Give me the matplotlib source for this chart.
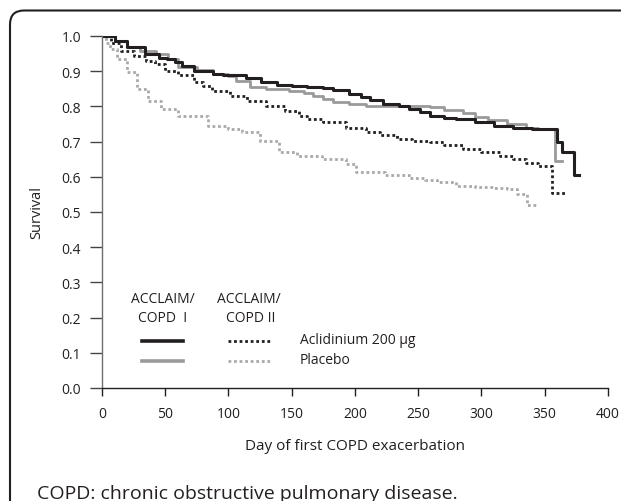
import matplotlib
matplotlib.use("Agg")
import matplotlib.pyplot as plt
from matplotlib.patches import FancyBboxPatch
from matplotlib.transforms import IdentityTransform

plt.rcParams['font.family'] = ['Open Sans', 'DejaVu Sans']

# ---- data ----
acl1_days = [0, 10, 20, 34, 45, 51, 58, 63, 73, 88, 96, 114, 126, 138, 150, 162, 175, 183, 195, 205, 212,
             222, 235, 243, 251, 259, 270, 280, 295, 310, 325, 340, 360, 364, 373, 377]
acl1_surv = [1.0, 0.985, 0.97, 0.949, 0.938, 0.935, 0.925, 0.916, 0.90, 0.893, 0.890, 0.880, 0.870, 0.862,
             0.858, 0.856, 0.851, 0.847, 0.835, 0.826, 0.818, 0.808, 0.800, 0.793, 0.783, 0.774, 0.768,
             0.763, 0.755, 0.745, 0.740, 0.735, 0.700, 0.670, 0.605, 0.605]

pla1_days = [0, 10, 20, 30, 43, 52, 60, 75, 88, 100, 106, 117, 130, 148, 160, 167, 175, 183, 195, 209, 230,
             259, 270, 285, 295, 305, 320, 335, 345, 358, 364]
pla1_surv = [1.0, 0.985, 0.97, 0.958, 0.949, 0.935, 0.912, 0.902, 0.892, 0.885, 0.873, 0.854, 0.850, 0.845,
             0.838, 0.830, 0.820, 0.812, 0.807, 0.800, 0.800, 0.798, 0.790, 0.780, 0.770, 0.760, 0.750,
             0.740, 0.735, 0.645, 0.645]

acl2_days = [0, 7, 15, 25, 35, 42, 50, 60, 73, 80, 87, 101, 115, 130, 145, 156, 162, 175, 193, 209, 220,
             233, 245, 259, 270, 285, 300, 315, 325, 335, 345, 356, 366]
acl2_surv = [1.0, 0.98, 0.958, 0.942, 0.928, 0.92, 0.90, 0.888, 0.870, 0.858, 0.845, 0.830, 0.815, 0.802,
             0.788, 0.774, 0.764, 0.755, 0.740, 0.728, 0.720, 0.707, 0.703, 0.698, 0.690, 0.680, 0.670,
             0.660, 0.650, 0.640, 0.630, 0.555, 0.555]

pla2_days = [0, 3, 6, 12, 20, 28, 36, 47, 60, 84, 100, 111, 125, 140, 154, 174, 193, 201, 224, 243, 255,
             265, 280, 295, 310, 320, 328, 336, 343]
pla2_surv = [1.0, 0.98, 0.963, 0.935, 0.897, 0.849, 0.816, 0.793, 0.772, 0.745, 0.735, 0.727, 0.703, 0.670,
             0.660, 0.650, 0.637, 0.615, 0.605, 0.598, 0.590, 0.585, 0.575, 0.572, 0.568, 0.565, 0.550,
             0.520, 0.520]

x_ticks = [0, 50, 100, 150, 200, 250, 300, 350, 400]
y_ticks = [0.0, 0.1, 0.2, 0.3, 0.4, 0.5, 0.6, 0.7, 0.8, 0.9, 1.0]

BLACK = '#231f20'
GRAY = '#9a9a9a'
LGRAY = '#a9a9a9'

W, H = 621, 502
fig = plt.figure(figsize=(W / 100, H / 100), dpi=100)

# frame (rounded box running off the right and bottom edges)
frame = FancyBboxPatch((10, -30), 700, (H - 11.5) + 30, boxstyle='round,pad=0,rounding_size=14',
                       transform=IdentityTransform(), fill=False, lw=1.5, ec=BLACK)
fig.add_artist(frame)

AX_L, AX_R, AX_T, AX_B = 102, 608, 37, 389
ax = fig.add_axes([AX_L / W, (H - AX_B) / H, (AX_R - AX_L) / W, (AX_B - AX_T) / H])

dot = (0, (1, 1))
ax.plot(pla2_days, pla2_surv, drawstyle='steps-post', color=LGRAY, lw=2.0, linestyle=dot)
ax.plot(acl2_days, acl2_surv, drawstyle='steps-post', color=BLACK, lw=2.0, linestyle=dot)
ax.plot(pla1_days, pla1_surv, drawstyle='steps-post', color=GRAY, lw=2.0)
ax.plot(acl1_days, acl1_surv, drawstyle='steps-post', color=BLACK, lw=2.2)

ax.set_xlim(0, 400)
ax.set_ylim(0, 1.0)
ax.set_xticks(x_ticks)
ax.set_yticks(y_ticks)
ax.set_yticklabels([f'{v:.1f}' for v in y_ticks])
for s in ['top', 'right']:
    ax.spines[s].set_visible(False)
ax.spines['left'].set_color('#6d6e71')
ax.spines['bottom'].set_color(BLACK)
ax.spines['left'].set_linewidth(1.0)
ax.spines['bottom'].set_linewidth(1.0)
ax.tick_params(axis='y', length=8.6, width=1.0, color='#444444', labelsize=10, pad=6.5, labelcolor=BLACK)
ax.tick_params(axis='x', length=5.8, width=1.0, color=BLACK, labelsize=10, pad=7.5, labelcolor=BLACK)
ax.set_xlabel('Day of first COPD exacerbation', fontsize=11, color=BLACK, labelpad=12)
ax.set_ylabel('Survival', fontsize=10.5, color=BLACK, labelpad=12)

# legend (manual, placed in axes coordinates)
tr = ax.transAxes
def ax_x(px):
    return (px - AX_L) / (AX_R - AX_L)
def ax_y(py):
    return (AX_B - py) / (AX_B - AX_T)

ax.text(ax_x(163), ax_y(300), 'ACCLAIM/', transform=tr, ha='center', va='center', fontsize=10, color=BLACK)
ax.text(ax_x(163), ax_y(319), 'COPD  I', transform=tr, ha='center', va='center', fontsize=10, color=BLACK)
ax.text(ax_x(249), ax_y(300), 'ACCLAIM/', transform=tr, ha='center', va='center', fontsize=10, color=BLACK)
ax.text(ax_x(251), ax_y(319), 'COPD II', transform=tr, ha='center', va='center', fontsize=10, color=BLACK)
ax.plot([ax_x(142), ax_x(183)], [ax_y(342), ax_y(342)], transform=tr, color=BLACK, lw=2.6)
ax.plot([ax_x(142), ax_x(183)], [ax_y(362), ax_y(362)], transform=tr, color=GRAY, lw=2.6)
ax.plot([ax_x(228), ax_x(270)], [ax_y(342), ax_y(342)], transform=tr, color=BLACK, lw=2.0, linestyle=dot)
ax.plot([ax_x(228), ax_x(270)], [ax_y(362), ax_y(362)], transform=tr, color=LGRAY, lw=2.0, linestyle=dot)
ax.text(ax_x(300), ax_y(341), 'Aclidinium 200 µg', transform=tr, ha='left', va='center', fontsize=10, color=BLACK)
ax.text(ax_x(300), ax_y(361), 'Placebo', transform=tr, ha='left', va='center', fontsize=10, color=BLACK)

fig.text(37 / W, 1 - 499 / H, 'COPD: chronic obstructive pulmonary disease.', ha='left', va='baseline',
         fontsize=14, color=BLACK)

fig.savefig('out.png', dpi=100)
